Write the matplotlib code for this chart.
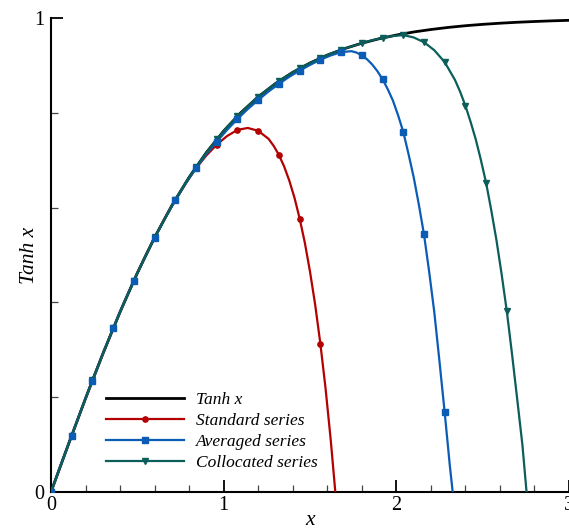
import matplotlib
matplotlib.use("Agg")
import matplotlib.pyplot as plt
from matplotlib.ticker import MultipleLocator

plt.rcParams["font.family"] = "serif"
plt.rcParams["font.serif"] = ["Liberation Serif", "DejaVu Serif"]

# exact curve
x_tanh = [0.0, 0.1, 0.2, 0.3, 0.4, 0.5, 0.6, 0.7, 0.8, 0.9, 1.0,
          1.1, 1.2, 1.3, 1.4, 1.5, 1.6, 1.7, 1.8, 1.9, 2.0,
          2.1, 2.2, 2.3, 2.4, 2.5, 2.6, 2.7, 2.8, 2.9, 3.0]
y_tanh = [0.0, 0.0997, 0.1974, 0.2913, 0.3799, 0.4621, 0.5370, 0.6044, 0.6640, 0.7163, 0.7616,
          0.8005, 0.8337, 0.8617, 0.8854, 0.9051, 0.9217, 0.9354, 0.9468, 0.9562, 0.9640,
          0.9705, 0.9757, 0.9801, 0.9837, 0.9866, 0.9890, 0.9910, 0.9926, 0.9940, 0.9951]

# standard series (curve + symbols)
x_std = [0.0, 0.06, 0.12, 0.18, 0.24, 0.30, 0.36, 0.42, 0.48, 0.54, 0.60, 0.66, 0.72, 0.78,
         0.84, 0.90, 0.96, 1.02, 1.08, 1.14, 1.20, 1.26, 1.29, 1.32, 1.35, 1.38, 1.41, 1.44,
         1.47, 1.50, 1.53, 1.56, 1.59, 1.62, 1.65]
y_std = [0.0, 0.060, 0.119, 0.178, 0.236, 0.291, 0.345, 0.397, 0.446, 0.493, 0.537, 0.578, 0.616, 0.651,
         0.683, 0.710, 0.733, 0.751, 0.764, 0.768, 0.762, 0.745, 0.730, 0.711, 0.687, 0.657, 0.621, 0.577,
         0.526, 0.465, 0.395, 0.313, 0.219, 0.110, -0.014]
xm_std = [0.0, 0.12, 0.24, 0.36, 0.48, 0.60, 0.72, 0.84, 0.96, 1.08, 1.20, 1.32, 1.44, 1.56]
ym_std = [0.0, 0.119, 0.236, 0.345, 0.446, 0.537, 0.616, 0.683, 0.733, 0.764, 0.762, 0.711, 0.577, 0.313]

# averaged series
x_avg = [0.0, 0.06, 0.12, 0.18, 0.24, 0.30, 0.36, 0.42, 0.48, 0.54, 0.60, 0.66, 0.72, 0.78,
         0.84, 0.90, 0.96, 1.02, 1.08, 1.14, 1.20, 1.26, 1.32, 1.38, 1.44, 1.50, 1.56, 1.62,
         1.68, 1.74, 1.77, 1.80, 1.83, 1.86, 1.89, 1.92, 1.95, 1.98, 2.01, 2.04, 2.07, 2.10,
         2.13, 2.16, 2.19, 2.22, 2.25, 2.28, 2.31, 2.33]
y_avg = [0.0, 0.060, 0.119, 0.178, 0.235, 0.291, 0.345, 0.397, 0.446, 0.492, 0.536, 0.577, 0.615, 0.651,
         0.683, 0.713, 0.739, 0.764, 0.787, 0.808, 0.827, 0.845, 0.861, 0.876, 0.889, 0.901, 0.912, 0.921,
         0.928, 0.930, 0.927, 0.921, 0.913, 0.902, 0.888, 0.871, 0.850, 0.826, 0.795, 0.760, 0.714, 0.665,
         0.607, 0.544, 0.465, 0.379, 0.275, 0.168, 0.055, -0.012]
xm_avg = [0.0, 0.12, 0.24, 0.36, 0.48, 0.60, 0.72, 0.84, 0.96, 1.08, 1.20, 1.32, 1.44, 1.56,
          1.68, 1.80, 1.92, 2.04, 2.16, 2.28]
ym_avg = [0.0, 0.119, 0.235, 0.345, 0.446, 0.536, 0.615, 0.683, 0.739, 0.787, 0.827, 0.861, 0.889, 0.912,
          0.928, 0.921, 0.871, 0.760, 0.544, 0.168]

# collocated series
x_col = [0.0, 0.06, 0.12, 0.18, 0.24, 0.30, 0.36, 0.42, 0.48, 0.54, 0.60, 0.66, 0.72, 0.78,
         0.84, 0.90, 0.96, 1.02, 1.08, 1.14, 1.20, 1.26, 1.32, 1.38, 1.44, 1.50, 1.56, 1.62,
         1.68, 1.74, 1.80, 1.86, 1.92, 1.98, 2.04, 2.10, 2.16, 2.22, 2.28, 2.34, 2.37, 2.40,
         2.43, 2.46, 2.49, 2.52, 2.55, 2.58, 2.61, 2.64, 2.67, 2.70, 2.73, 2.76]
y_col = [0.0, 0.060, 0.119, 0.178, 0.236, 0.291, 0.345, 0.397, 0.446, 0.493, 0.537, 0.578, 0.617, 0.653,
         0.686, 0.716, 0.744, 0.770, 0.793, 0.814, 0.834, 0.851, 0.867, 0.881, 0.894, 0.905, 0.915, 0.925,
         0.933, 0.940, 0.947, 0.953, 0.958, 0.962, 0.964, 0.959, 0.949, 0.932, 0.907, 0.869, 0.844, 0.815,
         0.781, 0.744, 0.700, 0.652, 0.594, 0.531, 0.459, 0.381, 0.291, 0.196, 0.100, -0.024]
xm_col = [0.0, 0.12, 0.24, 0.36, 0.48, 0.60, 0.72, 0.84, 0.96, 1.08, 1.20, 1.32, 1.44, 1.56,
          1.68, 1.80, 1.92, 2.04, 2.16, 2.28, 2.40, 2.52, 2.64]
ym_col = [0.0, 0.119, 0.236, 0.345, 0.446, 0.537, 0.617, 0.686, 0.744, 0.793, 0.834, 0.867, 0.894, 0.915,
          0.933, 0.947, 0.958, 0.964, 0.949, 0.907, 0.815, 0.652, 0.381]

c_std = "#b30000"
c_avg = "#0b5cb5"
c_col = "#0b5e5a"

fig = plt.figure(figsize=(5.69, 5.29), dpi=100)
ax = fig.add_axes([51 / 569, 37 / 529, 518 / 569, 474 / 529])

# curves first, symbols on top
l0, = ax.plot(x_tanh, y_tanh, color="black", lw=2.0, zorder=2)
l1, = ax.plot(x_std, y_std, color=c_std, lw=1.6, zorder=3)
l2, = ax.plot(x_avg, y_avg, color=c_avg, lw=1.6, zorder=4)
l3, = ax.plot(x_col, y_col, color=c_col, lw=1.6, zorder=5)

m1, = ax.plot(xm_std, ym_std, ls="none", color=c_std, marker="o", ms=3.8, zorder=6)
m3, = ax.plot(xm_col, ym_col, ls="none", color=c_col, marker="v", ms=4.3, zorder=7)
m2, = ax.plot(xm_avg, ym_avg, ls="none", color=c_avg, marker="s", ms=4.2, zorder=8)

ax.set_xlim(0, 3)
ax.set_ylim(0, 1)
ax.xaxis.set_major_locator(MultipleLocator(1))
ax.xaxis.set_minor_locator(MultipleLocator(0.2))
ax.yaxis.set_major_locator(MultipleLocator(1))
ax.yaxis.set_minor_locator(MultipleLocator(0.2))

for s in ["top", "right"]:
    ax.spines[s].set_visible(False)
for s in ["left", "bottom"]:
    ax.spines[s].set_linewidth(1.5)

ax.tick_params(which="major", direction="in", length=8.5, width=1.3, labelsize=14.5)
ax.tick_params(which="minor", direction="in", length=5, width=0.9, color="#444444")
ax.tick_params(axis="x", which="major", pad=3)
ax.tick_params(axis="y", which="major", pad=5)

ax.set_xlabel("x", fontsize=15.5, fontstyle="italic", labelpad=-3)
ax.set_ylabel("Tanh x", fontsize=15.5, fontstyle="italic", labelpad=-4)

ax.legend([l0, (l1, m1), (l2, m2), (l3, m3)],
          ["Tanh x", "Standard series", "Averaged series", "Collocated series"],
          loc="upper left", bbox_to_anchor=(0.1056, 0.211), frameon=False,
          prop={"style": "italic", "size": 12.5}, handlelength=4.5, handletextpad=0.7,
          labelspacing=0.28, borderpad=0, borderaxespad=0, numpoints=1)

fig.savefig("out.png", dpi=100)
